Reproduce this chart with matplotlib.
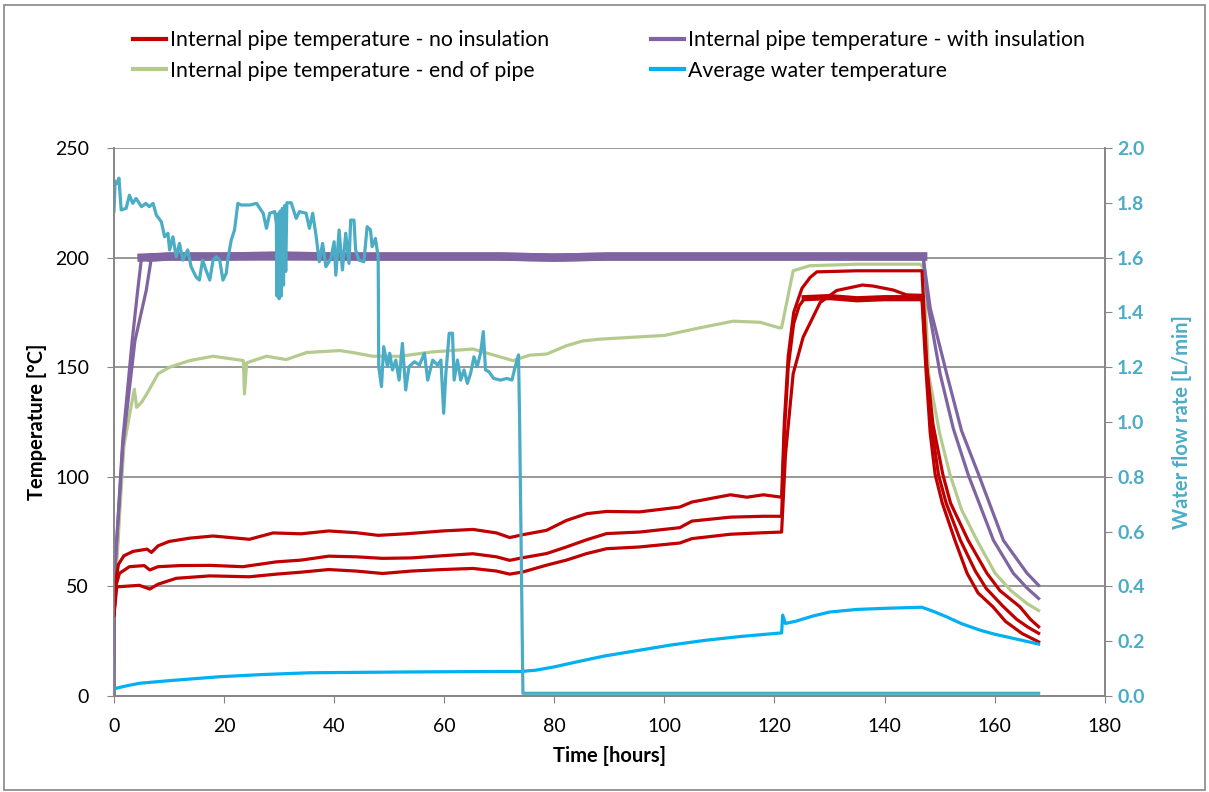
import numpy as np
import matplotlib.pyplot as plt
from matplotlib.lines import Line2D
from matplotlib.patches import Rectangle

plt.rcParams['font.family'] = ['Lato', 'DejaVu Sans']

# --- data --------------------------------------------------------------------
# internal pipe temperature - no insulation (three sensors)
red_top_t = [0, 0.3, 0.8, 1.8, 3.5, 6, 6.8, 8, 10, 13.7, 18, 24.6, 28.9, 34, 39, 44, 48,
             53, 59.7, 65.2, 69.5, 71.9, 74.3, 78.6, 82.2, 85.9, 89.5, 95.5, 102.8, 105,
             112, 115, 118, 121.3, 121.8, 122.5, 123.5, 125, 126.5, 127.7, 135, 140, 146.8,
             147.7, 148.8, 150.6, 152, 155.2, 158.6, 161, 164.6, 166.5, 168]
red_top_v = [37, 52, 60, 64, 66, 67, 65.5, 68.5, 70.5, 72, 73, 71.5, 74.4, 74, 75.3, 74.5, 73.3,
             74, 75.3, 76, 74.4, 72.3, 73.6, 75.6, 80.1, 83.2, 84.2, 84, 86.2, 88.5,
             91.8, 90.7, 91.8, 90.7, 125, 155, 175, 186, 191, 193.5, 194, 194, 194,
             150, 124, 101, 88, 71, 56, 48, 40.7, 35, 31.6]

red_mid_t = [0, 0.3, 1, 2.8, 5.5, 6.5, 8, 12, 17.4, 23.4, 29.5, 34, 39, 44, 48.8, 54, 59.7,
             65.2, 69.5, 71.9, 74.3, 78.6, 82.2, 85.9, 89.5, 95.5, 102.8, 105, 112, 118,
             121.3, 121.8, 122.5, 123.5, 124.5, 125.5, 130, 135, 140, 146.8,
             147.5, 148.3, 149.2, 150.5, 152.8, 155, 157, 159.7, 162, 165, 168]
red_mid_v = [37, 50, 56, 59, 59.5, 57.5, 59, 59.5, 59.6, 59, 61.2, 62, 63.8, 63.5, 62.8, 63, 64,
             64.9, 63.5, 61.9, 63.1, 65, 68, 71.3, 74.1, 74.8, 76.8, 79.8, 81.6, 82,
             82, 120, 150, 170, 178, 181.5, 182, 181, 181.5, 181.5,
             150, 120, 101, 88, 71, 56, 47, 40.7, 34, 28.5, 24.7]

red_low_t = [0, 0.5, 4.6, 6.5, 8, 11.3, 17.4, 24.6, 29.5, 34, 39, 44, 48.8, 54, 59.7, 65.2,
             69.5, 71.9, 74.3, 78.6, 82.2, 85.9, 89.5, 95.5, 102.8, 105, 112, 118, 121.3,
             122, 123.4, 125.2, 128.3, 131.3, 136, 138, 141.6, 144, 146.8,
             147.6, 148.6, 149.8, 151.2, 153.8, 156.5, 158.5, 161.5, 164, 166, 168]
red_low_v = [37, 49.8, 50.5, 48.8, 51, 53.7, 54.8, 54.4, 55.6, 56.5, 57.7, 57, 55.9, 57, 57.7, 58.2,
             57, 55.6, 56.6, 59.7, 62, 65, 67.2, 68, 69.8, 71.8, 73.8, 74.5, 74.8,
             110, 147, 163.6, 179.5, 185, 187.5, 187, 185.2, 183, 182.8,
             152, 122, 101, 88, 71, 57, 49, 41, 35, 31.5, 28.6]

# internal pipe temperature - with insulation (two sensors)
pur1_t = [0, 0.1, 1.6, 3.3, 4.3, 5.0, 10, 20, 30, 40, 50, 60, 70, 80, 90, 100, 110, 120, 130,
          140, 147, 148.3, 151.3, 154, 157.1, 161.6, 165.9, 168]
pur1_v = [0, 55, 117, 162, 185, 200, 200.5, 200.5, 201, 200.5, 200.5, 200.5, 200.5, 200, 200.5,
          200.5, 200.5, 200.5, 200.5, 200.5, 200.5, 177, 147, 121, 101, 71, 56, 50.5]
pur2_t = [0, 0.1, 1.6, 3.8, 5.85, 6.8, 10, 20, 30, 40, 50, 60, 70, 80, 90, 100, 110, 120, 130,
          140, 147, 148, 150.1, 152.5, 155.2, 159.8, 163.4, 166, 168]
pur2_v = [0, 55, 114, 162, 185, 200, 200.5, 200.5, 200.5, 200.5, 200.5, 200.5, 200.5, 200, 200.5,
          200.5, 200.5, 200.5, 200.5, 200.5, 200.5, 177, 147, 122, 101, 71, 56, 49, 44.5]

# internal pipe temperature - end of pipe
green_t = [0, 0.3, 1.0, 1.8, 2.8, 3.7, 4.1, 5.0, 6.0, 8.0, 10.1, 13.7, 18, 22.8, 23.5, 23.7, 24.1,
           27.7, 31.3, 35, 41, 43.4, 47, 51.9, 57.9, 65.2, 72.5, 75.5, 78.6, 82.2, 85.2, 88.3,
           93, 100, 106.5, 112.5, 117.4, 121, 121.3, 123.4, 126.4, 135, 146.4, 147, 147.6, 148,
           150, 151.9, 154, 156.8, 160.1, 163, 166, 168]
green_v = [40, 51, 82, 114, 128, 140, 131.7, 134, 138, 147, 150, 153, 155, 153.3, 153, 137.8, 152,
           155, 153.5, 156.7, 157.6, 156.7, 155, 155, 157, 158.3, 153, 155.5, 156, 159.8, 162, 162.8,
           163.5, 164.5, 168, 171, 170.5, 167.9, 168, 194, 196.3, 197, 197, 196, 170, 147,
           120, 101, 85, 71, 56, 48, 42, 39]

# average water temperature
water_t = [0, 2, 4.6, 10, 19.2, 27, 35.5, 45, 55, 62.8, 70, 74, 76.7, 80, 83.4, 89, 95.5, 101,
           107.7, 114, 121.3, 121.5, 122, 124, 127, 130, 135, 140, 146.8, 149, 151.3, 154,
           157.4, 160, 163.4, 168]
water_v = [3.3, 4.5, 5.8, 7, 8.8, 9.8, 10.6, 10.8, 11, 11.1, 11.2, 11.2, 11.8, 13.3, 15.2, 18.2,
           20.9, 23.2, 25.5, 27.2, 28.8, 36.9, 33.1, 34.2, 36.5, 38.3, 39.5, 40, 40.5, 38.5,
           36.1, 33, 30, 28.2, 26.3, 23.7]

# water flow rate [L/min] (secondary axis)
flow_t = [0.0, 0.2, 0.6, 0.9, 1.3, 2.2, 2.8, 3.4, 4.0, 5.0, 5.8, 6.4, 7.1, 7.7, 8.6, 9.2, 9.8,
          10.1, 10.7, 11.3, 11.9, 12.5, 13.4, 14.0, 14.9, 15.5, 16.1, 16.7, 17.4, 18.0, 18.6,
          19.2, 19.8, 20.4, 20.7, 21.3, 21.9, 22.5, 23.1, 24.7, 25.9, 27.1, 27.7, 28.3, 29.2,
          29.5, 29.6, 29.8, 30.0, 30.2, 30.4, 30.6, 30.8, 31.0, 31.2, 31.4, 32.2, 33.1, 33.7,
          34.9, 35.5, 36.1, 36.7, 37.3, 37.9, 38.5, 39.4, 40.0, 40.3, 40.9, 41.5, 42.1, 42.7,
          43.0, 43.6, 43.9, 44.5, 45.4, 46.0, 46.6, 46.9, 47.5, 48.0, 48.1, 48.6, 49.0, 49.7,
          50.1, 50.6, 51.2, 51.8, 52.4, 53.0, 53.6, 54.6, 55.5, 56.4, 57.0, 57.9, 58.8, 59.4,
          59.9, 60.3, 60.9, 61.5, 61.8, 62.4, 63.0, 63.6, 64.2, 64.8, 65.4, 66.0, 66.6, 67.1,
          67.5, 68.1, 69.0, 70.2, 71.4, 72.3, 72.9, 73.5, 73.7, 74.3, 168]
flow_v = [1.77, 1.88, 1.87, 1.89, 1.774, 1.78, 1.828, 1.798, 1.816, 1.786, 1.798, 1.786, 1.798,
          1.755, 1.731, 1.676, 1.689, 1.628, 1.676, 1.603, 1.652, 1.591, 1.628, 1.567, 1.53,
          1.518, 1.591, 1.555, 1.518, 1.591, 1.603, 1.591, 1.518, 1.543, 1.597, 1.664, 1.701,
          1.798, 1.792, 1.792, 1.798, 1.762, 1.707, 1.762, 1.768, 1.725, 1.46, 1.76, 1.45,
          1.77, 1.46, 1.78, 1.50, 1.79, 1.55, 1.80, 1.80, 1.743, 1.768, 1.762, 1.707, 1.762,
          1.682, 1.585, 1.652, 1.567, 1.597, 1.658, 1.536, 1.701, 1.555, 1.689, 1.579, 1.737,
          1.737, 1.628, 1.591, 1.585, 1.713, 1.701, 1.64, 1.67, 1.603, 1.202, 1.129, 1.275,
          1.202, 1.251, 1.19, 1.226, 1.153, 1.287, 1.117, 1.202, 1.22, 1.208, 1.251, 1.153,
          1.226, 1.208, 1.226, 1.032, 1.178, 1.324, 1.324, 1.153, 1.226, 1.153, 1.19, 1.141,
          1.178, 1.238, 1.202, 1.251, 1.33, 1.19, 1.184, 1.159, 1.153, 1.159, 1.153, 1.202,
          1.245, 1.0, 0.01, 0.01]

legend_labels = ['Internal pipe temperature - no insulation',
                 'Internal pipe temperature - with insulation',
                 'Internal pipe temperature - end of pipe',
                 'Average water temperature']

# --- colours -------------------------------------------------------------------
c_red = '#C00000'
c_pur = '#8064A2'
c_grn = '#B5CB8E'
c_wat = '#00B0F0'
c_flow = '#4BACC6'
c_axis = '#868686'

fig = plt.figure(figsize=(12.09, 7.92), dpi=100)
fig.patches.append(Rectangle((0.003, 0.003), 0.994, 0.991, transform=fig.transFigure,
                             fill=False, edgecolor=c_axis, lw=1.2))
ax = fig.add_axes([0.0943, 0.1212, 0.8194, 0.6919])
ax2 = ax.twinx()

lw = 2.3
for t, v in [(red_top_t, red_top_v), (red_mid_t, red_mid_v), (red_low_t, red_low_v)]:
    ax.plot(t, v, color=c_red, lw=lw, zorder=5)
# noisy flat segments are drawn thicker
ax.plot(red_mid_t[35:40], red_mid_v[35:40], color=c_red, lw=4.5, zorder=5)
for t, v in [(pur1_t, pur1_v), (pur2_t, pur2_v)]:
    ax.plot(t, v, color=c_pur, lw=lw, zorder=4)
    t = np.array(t)
    v = np.array(v)
    m = v >= 199.5
    ax.plot(t[m], v[m], color=c_pur, lw=6, zorder=4)
ax.plot(green_t, green_v, color=c_grn, lw=lw, zorder=3)
ax.plot(water_t, water_v, color=c_wat, lw=lw, zorder=6)
ax2.plot(flow_t, flow_v, color=c_flow, lw=lw)

ax.set_xlim(0, 180)
ax.set_ylim(0, 250)
ax2.set_ylim(0, 2.0)
ax.set_xticks(np.arange(0, 181, 20))
ax.set_yticks(np.arange(0, 251, 50))
ax2.set_yticks(np.arange(0, 2.01, 0.2))
ax2.set_yticklabels(['%.1f' % v for v in np.arange(0, 2.01, 0.2)])

ax.yaxis.grid(True, color=c_axis, lw=1.2)
ax.set_axisbelow(True)
for a in (ax, ax2):
    for s in a.spines.values():
        s.set_color(c_axis)
        s.set_linewidth(1.2)
    a.spines['top'].set_visible(False)
ax.tick_params(axis='both', direction='out', length=5, color=c_axis, labelsize=14)
ax.tick_params(axis='x', pad=11)
ax.tick_params(axis='y', pad=13)
ax2.tick_params(axis='y', direction='out', length=5, color=c_axis, labelsize=14,
                labelcolor=c_flow, pad=4)
for lab in ax2.get_yticklabels():
    lab.set_fontweight('bold')

ax.set_xlabel('Time [hours]', fontsize=14.5, fontweight='bold', labelpad=8)
ax.set_ylabel('Temperature [°C]', fontsize=14.5, fontweight='bold', labelpad=6)
ax2.set_ylabel('Water flow rate [L/min]', fontsize=14.5, fontweight='bold', color=c_flow,
               labelpad=20)

h = [Line2D([], [], color=c, lw=3) for c in (c_red, c_pur, c_grn, c_wat)]
kw = dict(loc='upper left', frameon=False, fontsize=15.3, handlelength=1.55,
          handletextpad=0.2, labelspacing=0.5, borderpad=0, borderaxespad=0)
fig.legend([h[0], h[2]], [legend_labels[0], legend_labels[2]],
           bbox_to_anchor=(133 / 1209, 1 - 30 / 792), **kw)
fig.legend([h[1], h[3]], [legend_labels[1], legend_labels[3]],
           bbox_to_anchor=(651 / 1209, 1 - 30 / 792), **kw)

fig.savefig('out.png', dpi=100)
